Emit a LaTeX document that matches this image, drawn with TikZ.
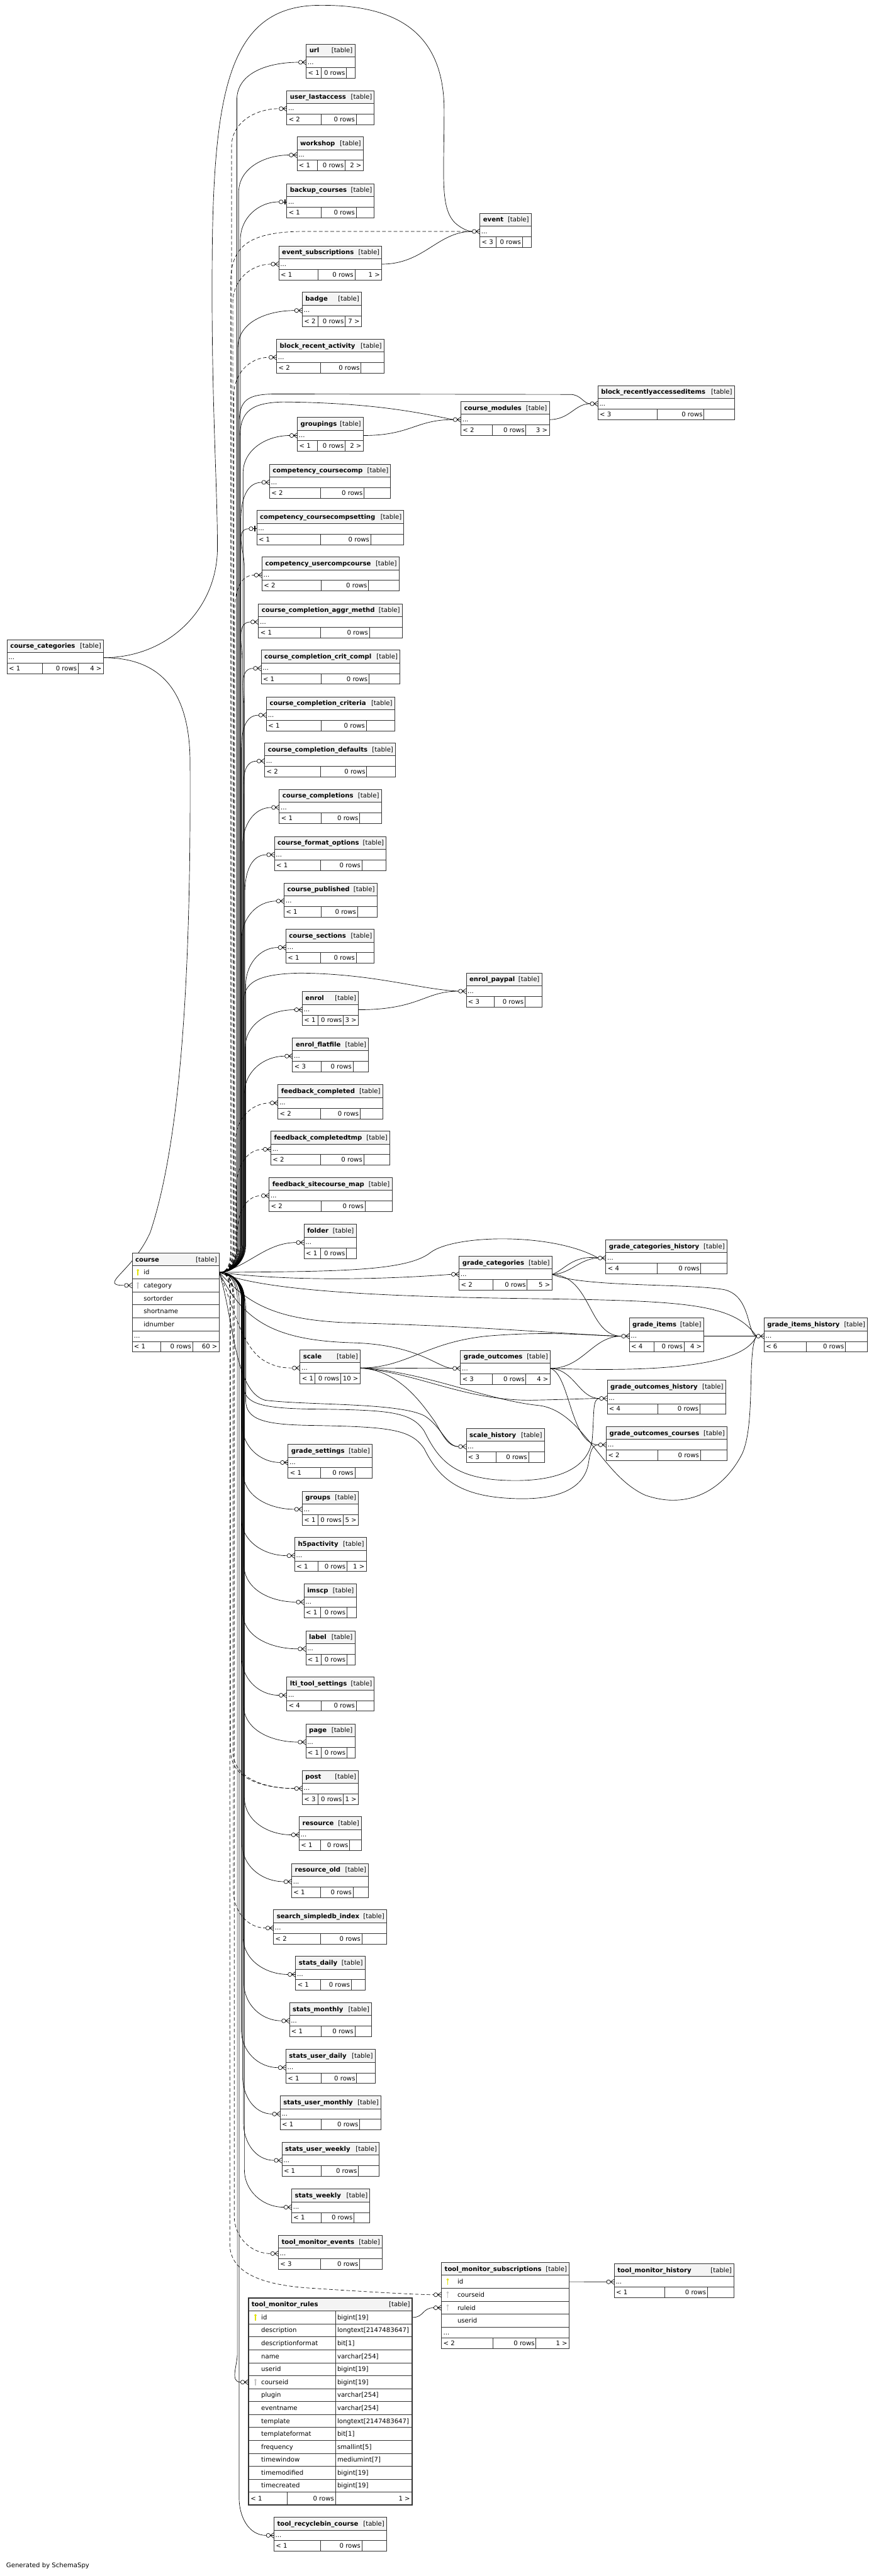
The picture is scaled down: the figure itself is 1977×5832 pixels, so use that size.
\documentclass[tikz,border=0pt]{standalone}
\usepackage{fontspec}
\setmainfont{DejaVu Sans}
\usetikzlibrary{calc}
\pgfdeclarelayer{bg}
\pgfdeclarelayer{edges}
\pgfsetlayers{bg,edges,main}
\definecolor{hdrbg}{HTML}{F4F4F4}
\definecolor{pkcol}{HTML}{E2E200}
\definecolor{fkcol}{HTML}{C4C4C4}
\definecolor{tblline}{HTML}{333333}

\newcommand\tbl[9]{%
  \fill[white] (#2,#4) rectangle (#3,#4+77);
  \fill[hdrbg] (#2,#4) rectangle (#3,#4+29);
  \draw[tblbox] (#2,#4) rectangle (#3,#4+77);
  \draw[tblbox] (#2,#4+29) -- (#3,#4+29) (#2,#4+53) -- (#3,#4+53) (#6,#4+53) -- (#6,#4+77) (#7,#4+53) -- (#7,#4+77);
  \node[txt,anchor=base west] (#1) at (#2+7,#4+19.5) {\bfseries #5};
  \node[txt,anchor=base east] (#1-tag) at (#3-5,#4+19.5) {[table]};
  \node[txt,anchor=base west] (#1-dots) at (#2+3,#4+45.5) {...};
  \node[txt,anchor=base west] (#1-lt) at (#2+4,#4+70) {#8};
  \node[txt,anchor=base east] (#1-rows) at (#7-3,#4+70) {0 rows};
  \node[txt,anchor=base east] (#1-gt) at (#3-4,#4+70) {#9};
  \coordinate (#1-w) at (#2,#4+41);
  \coordinate (#1-e) at (#3,#4+41);
  \coordinate (#1-c) at (#2-17.5,#4+41);
}
\newcommand\keyico[3]{\fill[#3] (#1,#2-5) circle (2.8pt); \draw[#3,line width=1.8pt] (#1,#2-5) -- (#1,#2+7);}
\newcommand\upr[3][]{\draw[rel,#1] let \p1=(#2-c) in (course-id-e) to[out=0,in=-90] (#3,2820) -- (#3pt,\y1-85pt) to[out=90,in=180] (#2-c);}
\newcommand\dnr[3][]{\draw[rel,#1] let \p1=(#2-c) in (course-id-e) to[out=0,in=90] (#3,2940) -- (#3pt,\y1+85pt) to[out=-90,in=180] (#2-c);}
\newcommand\crowmark[1]{%
  \draw[rel] ($(#1-w)+(-9,0)$) -- (#1-w) ($(#1-w)+(-9,0)$) -- ($(#1-w)+(0,-6)$) ($(#1-w)+(-9,0)$) -- ($(#1-w)+(0,6)$);
  \draw[rel,fill=white] ($(#1-w)+(-13,0)$) circle (4.5pt);}
\newcommand\onemark[1]{%
  \draw[rel] ($(#1-w)+(-8.5,0)$) -- (#1-w);
  \draw[rel,line width=2.4pt] ($(#1-w)+(-4,-6)$) -- ($(#1-w)+(-4,6)$);
  \draw[rel,fill=white] ($(#1-w)+(-13,0)$) circle (4.5pt);}

\begin{document}
\begin{tikzpicture}[x=1pt,y=-1pt,
  txt/.style={inner sep=0pt,font=\fontsize{14.4}{17}\selectfont},
  tblbox/.style={draw=tblline,line width=1.3pt},
  rel/.style={draw=black,line width=0.95pt},
  imp/.style={dash pattern=on 8pt off 5pt}]
\begin{pgfonlayer}{bg}
\fill[white] (0,0) rectangle (1977,5832);
\end{pgfonlayer}
\useasboundingbox (0,0) rectangle (1977,5832);

\tbl{url}{693}{803}{100}{url}{727}{784}{< 1}{}
\tbl{ulast}{649}{847}{205}{user\_lastaccess}{727}{806}{< 2}{}
\tbl{wshop}{672}{822}{310}{workshop}{718}{781}{< 1}{2 >}
\tbl{bkc}{649}{847}{416}{backup\_courses}{727}{806}{< 1}{}
\tbl{evsub}{631}{864}{557}{event\_subscriptions}{719}{803}{< 1}{1 >}
\tbl{badge}{684}{818}{662}{badge}{719}{781}{< 2}{7 >}
\tbl{bract}{626}{869}{768}{block\_recent\_activity}{726}{817}{< 2}{}
\tbl{grpg}{673}{822}{945}{groupings}{718}{781}{< 1}{2 >}
\tbl{ccomp}{610}{884}{1051}{competency\_coursecomp}{726}{824}{< 2}{}
\tbl{ccset}{581}{914}{1156}{competency\_coursecompsetting}{726}{839}{< 1}{}
\tbl{cucc}{593}{903}{1261}{competency\_usercompcourse}{727}{834}{< 2}{}
\tbl{caggr}{585}{910}{1367}{course\_completion\_aggr\_methd}{726}{836}{< 1}{}
\tbl{ccc}{591}{905}{1472}{course\_completion\_crit\_compl}{727}{835}{< 1}{}
\tbl{ccrit}{603}{893}{1578}{course\_completion\_criteria}{727}{829}{< 1}{}
\tbl{cdef}{599}{895}{1682}{course\_completion\_defaults}{726}{830}{< 2}{}
\tbl{ccomps}{632}{863}{1787}{course\_completions}{727}{814}{< 1}{}
\tbl{cfmt}{621}{874}{1894}{course\_format\_options}{726}{819}{< 1}{}
\tbl{cpub}{643}{853}{1999}{course\_published}{727}{809}{< 1}{}
\tbl{csec}{647}{847}{2104}{course\_sections}{726}{806}{< 1}{}
\tbl{enrol}{684}{811}{2245}{enrol}{719}{777}{< 1}{3 >}
\tbl{eflat}{662}{834}{2350}{enrol\_flatfile}{727}{799}{< 3}{}
\tbl{fbc}{629}{866}{2456}{feedback\_completed}{726}{815}{< 2}{}
\tbl{fbct}{613}{882}{2561}{feedback\_completedtmp}{726}{823}{< 2}{}
\tbl{fbsm}{609}{887}{2666}{feedback\_sitecourse\_map}{727}{826}{< 2}{}
\tbl{folder}{688}{806}{2772}{folder}{726}{784}{< 1}{}
\tbl{scale}{679}{815}{3056}{scale}{713}{771}{< 1}{10 >}
\tbl{gset}{652}{842}{3270}{grade\_settings}{726}{803}{< 1}{}
\tbl{groups}{684}{811}{3376}{groups}{719}{776}{< 1}{5 >}
\tbl{h5p}{667}{829}{3481}{h5pactivity}{719}{785}{< 1}{1 >}
\tbl{imscp}{688}{806}{3586}{imscp}{726}{785}{< 1}{}
\tbl{label}{692}{803}{3692}{label}{727}{785}{< 1}{}
\tbl{lti}{649}{847}{3797}{lti\_tool\_settings}{727}{806}{< 4}{}
\tbl{page}{692}{803}{3903}{page}{727}{785}{< 1}{}
\tbl{post}{684}{811}{4008}{post}{719}{777}{< 3}{1 >}
\tbl{res}{677}{818}{4113}{resource}{726}{791}{< 1}{}
\tbl{resold}{660}{834}{4219}{resource\_old}{726}{799}{< 1}{}
\tbl{ssi}{619}{875}{4324}{search\_simpledb\_index}{726}{819}{< 2}{}
\tbl{sd}{669}{826}{4429}{stats\_daily}{726}{795}{< 1}{}
\tbl{sm}{655}{841}{4534}{stats\_monthly}{727}{803}{< 1}{}
\tbl{sud}{647}{849}{4640}{stats\_user\_daily}{727}{807}{< 1}{}
\tbl{sum}{634}{862}{4745}{stats\_user\_monthly}{727}{814}{< 1}{}
\tbl{suw}{638}{858}{4850}{stats\_user\_weekly}{727}{811}{< 1}{}
\tbl{sw}{660}{837}{4956}{stats\_weekly}{727}{801}{< 1}{}
\tbl{tme}{630}{865}{5061}{tool\_monitor\_events}{726}{814}{< 3}{}
\tbl{trc}{620}{875}{5699}{tool\_recyclebin\_course}{726}{819}{< 1}{}
\tbl{event}{1086}{1202}{483}{event}{1123}{1182}{< 3}{}
\tbl{cm}{1043}{1243}{909}{course\_modules}{1114}{1190}{< 2}{3 >}
\tbl{bra}{1353}{1662}{873}{block\_recentlyaccesseditems}{1487}{1593}{< 3}{}
\tbl{ep}{1055}{1226}{2203}{enrol\_paypal}{1119}{1188}{< 3}{}
\tbl{gch}{1371}{1645}{2807}{grade\_categories\_history}{1487}{1586}{< 4}{}
\tbl{gc}{1039}{1249}{2844}{grade\_categories}{1115}{1193}{< 2}{5 >}
\tbl{gi}{1424}{1592}{2984}{grade\_items}{1480}{1548}{< 4}{4 >}
\tbl{gih}{1729}{1963}{2984}{grade\_items\_history}{1824}{1913}{< 6}{}
\tbl{go}{1042}{1245}{3057}{grade\_outcomes}{1114}{1190}{< 3}{4 >}
\tbl{goh}{1374}{1642}{3125}{grade\_outcomes\_history}{1488}{1584}{< 4}{}
\tbl{goc}{1372}{1645}{3230}{grade\_outcomes\_courses}{1488}{1585}{< 2}{}
\tbl{sh}{1055}{1232}{3234}{scale\_history}{1123}{1196}{< 3}{}
\tbl{cc}{16}{234}{1448}{course\_categories}{96}{177}{< 1}{4 >}
\tbl{tmh}{1390}{1661}{5125}{tool\_monitor\_history}{1504}{1601}{< 1}{}

\fill[white] (299,2837) rectangle (496,3061);
\fill[hdrbg] (299,2837) rectangle (496,2866);
\draw[tblbox] (299,2837) rectangle (496,3061);
\foreach \yy in {2866,2895.4,2924.8,2954.2,2983.6,3013,3037} \draw[tblbox] (299,\yy) -- (496,\yy);
\draw[tblbox] (364,3037) -- (364,3061) (436,3037) -- (436,3061);
\node[txt,anchor=base west] (course) at (306,2856.5) {\bfseries course};
\node[txt,anchor=base east] (course-tag) at (491,2856.5) {[table]};
\foreach \n [count=\k from 0] in {id,category,sortorder,shortname,idnumber}
  \node[txt,anchor=base west] (course-\n) at (325,2885.7+29.4*\k) {\n};
\keyico{312}{2880.7}{pkcol}
\keyico{312}{2910.1}{fkcol}
\node[txt,anchor=base west] (course-dots) at (303,3029.5) {...};
\node[txt,anchor=base west] (course-lt) at (303,3054) {< 1};
\node[txt,anchor=base east] (course-rows) at (433,3054) {0 rows};
\node[txt,anchor=base east] (course-gt) at (492,3054) {60 >};
\coordinate (course-id-e) at (496,2880.7);
\coordinate (course-cat-w) at (299,2910.1);
\coordinate (course-cat-c) at (281.5,2910.1);

\fill[white] (999,5122) rectangle (1288,5317);
\fill[hdrbg] (999,5122) rectangle (1288,5151);
\draw[tblbox] (999,5122) rectangle (1288,5317);
\foreach \yy in {5151,5180.5,5210,5239.5,5269,5293} \draw[tblbox] (999,\yy) -- (1288,\yy);
\draw[tblbox] (1115,5293) -- (1115,5317) (1213,5293) -- (1213,5317);
\node[txt,anchor=base west] (tms) at (1006,5141.5) {\bfseries tool\_monitor\_subscriptions};
\node[txt,anchor=base east] (tms-tag) at (1283,5141.5) {[table]};
\foreach \n [count=\k from 0] in {id,courseid,ruleid,userid}
  \node[txt,anchor=base west] (tms-\n) at (1035,5170.7+29.5*\k) {\n};
\keyico{1013}{5165.7}{pkcol}
\keyico{1013}{5195.2}{fkcol}
\keyico{1013}{5224.7}{fkcol}
\node[txt,anchor=base west] (tms-dots) at (1003,5286) {...};
\node[txt,anchor=base west] (tms-lt) at (1003,5310.5) {< 2};
\node[txt,anchor=base east] (tms-rows) at (1210,5310.5) {0 rows};
\node[txt,anchor=base east] (tms-gt) at (1284,5310.5) {1 >};
\coordinate (tms-id-e) at (1288,5165.7);
\coordinate (tms-cid-w) at (999,5195.2);
\coordinate (tms-cid-c) at (981.5,5195.2);
\coordinate (tms-rid-w) at (999,5224.7);
\coordinate (tms-rid-c) at (981.5,5224.7);

\fill[white] (562,5203) rectangle (933,5671);
\fill[hdrbg] (562,5203) rectangle (933,5232);
\foreach \k in {0,...,14} \draw[tblbox] (562,5232+29.3*\k) -- (933,5232+29.3*\k);
\draw[tblbox] (759,5232) -- (759,5671) (650,5642.2) -- (650,5671);
\draw[tblbox,line width=3pt] (562,5203) rectangle (933,5671);
\node[txt,anchor=base west] (tmr) at (569,5222.5) {\bfseries tool\_monitor\_rules};
\node[txt,anchor=base east] (tmr-tag) at (928,5222.5) {[table]};
\foreach \n/\t [count=\k from 0] in {id/bigint[19],description/longtext[2147483647],descriptionformat/bit[1],name/varchar[254],userid/bigint[19],courseid/bigint[19],plugin/varchar[254],eventname/varchar[254],template/longtext[2147483647],templateformat/bit[1],frequency/smallint[5],timewindow/mediumint[7],timemodified/bigint[19],timecreated/bigint[19]}
{\node[txt,anchor=base west] (tmr-\n) at (591,5251.6+29.3*\k) {\n};
 \node[txt,anchor=base west] (tmr-\n-type) at (763,5251.6+29.3*\k) {\t};}
\keyico{578}{5246.6}{pkcol}
\keyico{578}{5393.1}{fkcol}
\node[txt,anchor=base west] (tmr-lt) at (567,5661.5) {< 1};
\node[txt,anchor=base east] (tmr-rows) at (756,5661.5) {0 rows};
\node[txt,anchor=base east] (tmr-gt) at (928,5661.5) {1 >};
\coordinate (tmr-id-e) at (933,5246.6);
\coordinate (tmr-cid-w) at (562,5393.1);
\coordinate (tmr-cid-c) at (544.5,5393.1);

\node[txt,anchor=base west] (credit) at (14,5812) {Generated by SchemaSpy};

\begin{pgfonlayer}{edges}
\upr{url}{536}
\upr[imp]{ulast}{524}
\upr{wshop}{540}
\upr{bkc}{544}
\upr[imp]{evsub}{527}
\upr{badge}{538}
\upr[imp]{bract}{529}
\upr{grpg}{550}
\upr{ccomp}{545}
\upr{ccset}{553}
\upr[imp]{cucc}{531}
\upr{caggr}{548}
\upr{ccc}{552}
\upr{ccrit}{546}
\upr{cdef}{551}
\upr{ccomps}{549}
\upr{cfmt}{554}
\upr{cpub}{547}
\upr{csec}{556}
\upr{enrol}{555}
\upr{eflat}{553}
\upr[imp]{fbc}{533}
\upr[imp]{fbct}{535}
\upr[imp]{fbsm}{537}
\dnr{gset}{548}
\dnr{groups}{550}
\dnr{h5p}{546}
\dnr{imscp}{552}
\dnr{label}{549}
\dnr{lti}{547}
\dnr{page}{551}
\dnr[imp]{post}{522}
\dnr[imp]{post}{527}
\dnr{res}{553}
\dnr{resold}{548}
\dnr[imp]{ssi}{528}
\dnr{sd}{550}
\dnr{sm}{552}
\dnr{sud}{546}
\dnr{sum}{549}
\dnr{suw}{551}
\dnr{sw}{553}
\dnr[imp]{tme}{530}
\dnr{trc}{541}
\draw[rel,imp] (course-id-e) to[out=0,in=-90] (522,2820) -- (522,640) .. controls (522,560) and (560,526) .. (680,524) -- (event-c);
\draw[rel] (course-id-e) to[out=0,in=-90] (541,2820) -- (541,960) .. controls (541,905) and (560,893) .. (620,892) -- (1290,893) .. controls (1315,893) and (1320,914) .. (bra-c);
\draw[rel] (course-id-e) to[out=0,in=-90] (543,2820) -- (543,990) .. controls (543,930) and (570,912) .. (640,910) .. controls (850,912) and (950,935) .. (cm-c);
\draw[rel] (course-id-e) to[out=0,in=-90] (551,2820) -- (551,2270) .. controls (551,2225) and (580,2205) .. (680,2203) .. controls (850,2205) and (950,2240) .. (ep-c);
\draw[rel] (course-id-e) .. controls (560,2870) and (600,2813) .. (folder-c);
\draw[rel] (grpg-e) .. controls (930,986) and (940,950) .. (cm-c);
\draw[rel] (cm-e) .. controls (1290,950) and (1300,914) .. (bra-c);
\draw[rel] (evsub-e) .. controls (960,598) and (990,524) .. (event-c);
\draw[rel] (enrol-e) .. controls (950,2286) and (960,2244) .. (ep-c);
\draw[rel] (cc-e) .. controls (380,1489) and (492,1380) .. (492,1240) .. controls (492,1100) and (478,900) .. (480,600) .. controls (482,200) and (520,15) .. (720,12) .. controls (880,10) and (1005,60) .. (1005,250) .. controls (1005,400) and (995,470) .. (1030,505) .. controls (1045,518) and (1060,524) .. (event-c);
\draw[rel] (cc-e) .. controls (360,1489) and (428,1560) .. (430,1720) .. controls (432,2100) and (420,2550) .. (340,2790) .. controls (300,2880) and (220,2910) .. (course-cat-c);
\draw[rel,imp] (course-id-e) to[out=0,in=90] (520,2940) -- (520,5080) .. controls (520,5140) and (580,5172) .. (700,5180) .. controls (850,5190) and (950,5195) .. (tms-cid-c);
\draw[rel] (course-id-e) to[out=0,in=90] (537,2940) -- (537,5330) to[out=-90,in=180] (tmr-cid-c);
\draw[rel] (tmr-id-e) .. controls (960,5246.6) and (955,5224.7) .. (tms-rid-c);
\draw[rel] (tms-id-e) -- (tmh-c);
\draw[rel] (course-id-e) .. controls (650,2900) and (850,2898) .. (gc-c);
\draw[rel] (course-id-e) .. controls (750,2878) and (920,2880) .. (975,2835) .. controls (1030,2795) and (1250,2790) .. (gch-c);
\draw[rel] (gc-e) .. controls (1290,2885) and (1310,2850) .. (gch-c);
\draw[rel] (gc-e) .. controls (1275,2878) and (1295,2840) .. (gch-c);
\draw[rel] (gc-e) .. controls (1340,2890) and (1330,3025) .. (gi-c);
\draw[rel] (gc-e) .. controls (1320,2915) and (1560,2905) .. (1640,2920) .. controls (1700,2935) and (1690,3020) .. (gih-c);
\draw[rel] (course-id-e) .. controls (600,2925) and (900,2936) .. (1200,2940) .. controls (1550,2945) and (1660,2950) .. (gih-c);
\draw[rel] (course-id-e) .. controls (560,2950) and (620,2990) .. (800,2995) .. controls (1100,3003) and (1300,3022) .. (gi-c);
\draw[rel] (course-id-e) .. controls (550,2990) and (620,3035) .. (800,3040) .. controls (950,3045) and (990,3097) .. (go-c);
\draw[rel,imp] (course-id-e) .. controls (530,2960) and (545,3050) .. (600,3082) .. controls (625,3095) and (640,3097) .. (scale-c);
\draw[rel] (scale-e) -- (go-c);
\draw[rel] (scale-e) .. controls (920,3097) and (960,3040) .. (1100,3025) .. controls (1250,3012) and (1350,3025) .. (gi-c);
\draw[rel] (scale-e) .. controls (950,3110) and (1050,3170) .. (1200,3170) .. controls (1300,3168) and (1330,3166) .. (goh-c);
\draw[rel] (scale-e) .. controls (960,3105) and (1100,3170) .. (1220,3182) .. controls (1320,3195) and (1360,3340) .. (1460,3385) .. controls (1560,3420) and (1640,3370) .. (1680,3290) .. controls (1710,3220) and (1690,3060) .. (gih-c);
\draw[rel] (scale-e) .. controls (900,3102) and (950,3170) .. (985,3220) .. controls (1005,3255) and (1015,3275) .. (sh-c);
\draw[rel] (go-e) .. controls (1320,3098) and (1340,3025) .. (gi-c);
\draw[rel] (go-e) .. controls (1450,3105) and (1680,3100) .. (gih-c);
\draw[rel] (go-e) .. controls (1300,3100) and (1310,3166) .. (goh-c);
\draw[rel] (go-e) .. controls (1290,3110) and (1290,3271) .. (goc-c);
\draw[rel] (gi-e) -- (gih-c);
\draw[rel] (course-id-e) .. controls (530,2990) and (530,3150) .. (600,3170) .. controls (700,3182) and (900,3175) .. (960,3205) .. controls (1000,3230) and (1010,3275) .. (sh-c);
\draw[rel] (course-id-e) to[out=0,in=90] (552,2960) -- (552,3140) .. controls (552,3180) and (600,3188) .. (700,3190) .. controls (880,3192) and (930,3195) .. (960,3240) .. controls (990,3300) and (1020,3340) .. (1120,3350) .. controls (1250,3360) and (1330,3330) .. (1340,3260) .. controls (1345,3200) and (1340,3166) .. (goh-c);
\draw[rel] (course-id-e) to[out=0,in=90] (556,2960) -- (556,3170) .. controls (556,3215) and (600,3225) .. (700,3227) .. controls (880,3230) and (930,3235) .. (960,3280) .. controls (990,3340) and (1030,3385) .. (1150,3392) .. controls (1280,3400) and (1325,3360) .. (1332,3310) .. controls (1336,3285) and (1340,3271) .. (goc-c);
\end{pgfonlayer}

\foreach \t in {url,ulast,wshop,evsub,badge,bract,grpg,ccomp,cucc,caggr,ccc,ccrit,cdef,ccomps,cfmt,cpub,csec,enrol,eflat,fbc,fbct,fbsm,folder,scale,gset,groups,h5p,imscp,label,lti,page,post,res,resold,ssi,sd,sm,sud,sum,suw,sw,tme,trc,event,cm,bra,ep,gch,gc,gi,gih,go,goh,goc,sh,tmh,course-cat,tms-cid,tms-rid,tmr-cid}
  \crowmark{\t};
\foreach \t in {bkc,ccset} \onemark{\t};
\end{tikzpicture}
\end{document}
